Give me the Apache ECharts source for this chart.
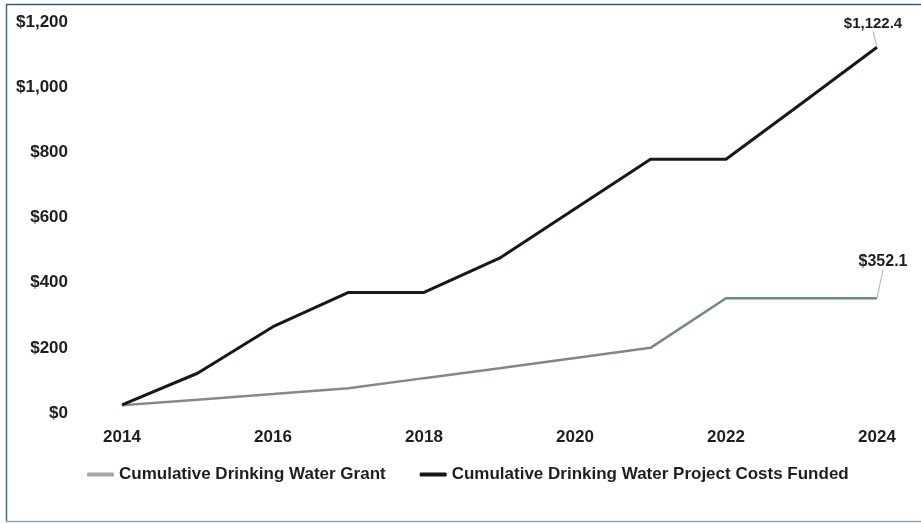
<!DOCTYPE html>
<html>
<head>
<meta charset="utf-8">
<script src="https://cdn.jsdelivr.net/npm/echarts@6/dist/echarts.min.js"></script>
<style>
html,body{margin:0;padding:0;background:#fff;}
#chart{width:921px;height:523px;}
</style>
</head>
<body>
<div id="chart"></div>
<script>
var years = ['2014','2015','2016','2017','2018','2019','2020','2021','2022','2023','2024'];
var grantValues = [24, 41, 58, 76, 107, 137, 169, 200, 352.1, 352.1, 352.1];
var projectValues = [25, 122, 265, 370, 370, 475, 627, 779, 779, 950, 1122.4];
var seriesNames = ['Cumulative Drinking Water Grant', 'Cumulative Drinking Water Project Costs Funded'];
var yTicks = [0, 200, 400, 600, 800, 1000, 1200];

var FONT = '"Liberation Sans", Arial, sans-serif';
function money(v){ return '$' + Number(v).toLocaleString('en-US'); }
function lastLabel(arr, txt, size){
  return arr.map(function(v, i){
    if (i === arr.length - 1) {
      return {value: v, label: {show: true, formatter: txt, fontSize: size}};
    }
    return v;
  });
}

var chart = echarts.init(document.getElementById('chart'));
chart.setOption({
  backgroundColor: '#ffffff',
  animation: false,
  textStyle: {fontFamily: FONT},
  grid: {left: 122, right: 44, top: 22, bottom: 110, containLabel: false},
  graphic: [
    {type: 'line', shape: {x1: 6.5, y1: 4, x2: 6.5, y2: 522}, style: {stroke: '#4b6a84', lineWidth: 1.5}},
    {type: 'line', shape: {x1: 6, y1: 4.5, x2: 921, y2: 4.5}, style: {stroke: '#3d5a72', lineWidth: 1.5}},
    {type: 'line', shape: {x1: 6, y1: 521.5, x2: 921, y2: 521.5}, style: {stroke: '#93a6b5', lineWidth: 1.5}}
  ],
  legend: {
    left: 82,
    top: 461,
    itemWidth: 27,
    itemHeight: 4,
    itemGap: 34,
    icon: 'roundRect',
    textStyle: {fontFamily: FONT, fontWeight: 'bold', fontSize: 17, color: '#1e1e1e'},
    data: [
      {name: seriesNames[0], itemStyle: {color: '#a3a7a5'}},
      {name: seriesNames[1], itemStyle: {color: '#141818'}}
    ]
  },
  xAxis: {
    type: 'category',
    data: years,
    boundaryGap: false,
    axisLine: {show: false},
    axisTick: {show: false},
    splitLine: {show: false},
    axisLabel: {interval: 1, margin: 16, fontFamily: FONT, fontWeight: 'bold', fontSize: 17, color: '#1e1e1e'}
  },
  yAxis: {
    type: 'value',
    min: yTicks[0],
    max: yTicks[yTicks.length - 1],
    interval: 200,
    axisLine: {show: false},
    axisTick: {show: false},
    splitLine: {show: false},
    axisLabel: {margin: 54, fontFamily: FONT, fontWeight: 'bold', fontSize: 17, color: '#1e1e1e', formatter: money}
  },
  series: [
    {
      name: seriesNames[0],
      type: 'line',
      data: lastLabel(grantValues, '$352.1', 16),
      symbol: 'circle',
      symbolSize: 0.01,
      showSymbol: true,
      z: 2,
      lineStyle: {
        width: 2.5,
        color: {type: 'linear', x: 0, y: 0, x2: 1, y2: 0, colorStops: [
          {offset: 0, color: '#858b89'},
          {offset: 0.7, color: '#7f8784'},
          {offset: 0.8, color: '#6f8c76'},
          {offset: 1, color: '#6a9072'}
        ]}
      },
      itemStyle: {color: '#a3a7a5'},
      label: {show: false, fontFamily: FONT, fontWeight: 'bold', fontSize: 16, color: '#1e1e1e', position: 'top'},
      labelLine: {show: true, lineStyle: {color: '#a9aeb0', width: 1}},
      labelLayout: {dx: 6, dy: -24}
    },
    {
      name: seriesNames[1],
      type: 'line',
      data: lastLabel(projectValues, '$1,122.4', 15),
      symbol: 'circle',
      symbolSize: 0.01,
      showSymbol: true,
      z: 3,
      lineStyle: {width: 3, color: '#141a1a'},
      itemStyle: {color: '#141818'},
      label: {show: false, fontFamily: FONT, fontWeight: 'bold', fontSize: 16, color: '#1e1e1e', position: 'top'},
      labelLine: {show: true, lineStyle: {color: '#a9aeb0', width: 1}},
      labelLayout: {dx: -4, dy: -11}
    }
  ]
});
</script>
</body>
</html>
